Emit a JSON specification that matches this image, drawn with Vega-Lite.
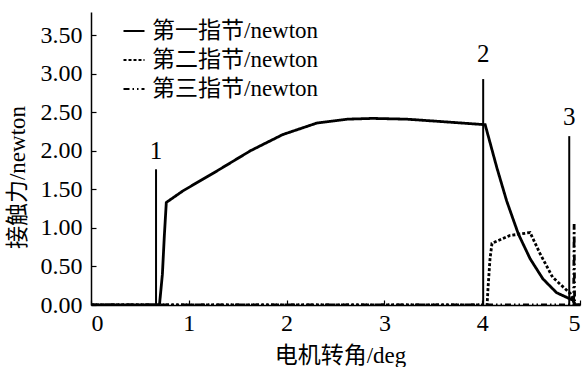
{
  "$schema": "https://vega.github.io/schema/vega-lite/v6.json",
  "width": 489,
  "height": 293,
  "autosize": {"type": "none"},
  "padding": {"left": 91, "top": 12, "right": 4, "bottom": 62},
  "background": "white",
  "config": {
    "view": {"stroke": null},
    "font": "Liberation Serif",
    "axis": {
      "domainColor": "black", "domainWidth": 1.5, "tickColor": "black", "tickWidth": 1.2,
      "labelFont": "Liberation Serif", "labelFontSize": 24, "labelColor": "black",
      "titleFont": "Liberation Serif, Noto Sans CJK SC", "titleFontSize": 23, "titleFontWeight": "normal", "titleColor": "black",
      "grid": false
    }
  },
  "datasets": {
    "curves": [
      {"s": "第一指节/newton", "x": 0, "y": 0},
      {"s": "第一指节/newton", "x": 0.70, "y": 0},
      {"s": "第一指节/newton", "x": 0.73, "y": 0.4},
      {"s": "第一指节/newton", "x": 0.75, "y": 0.9},
      {"s": "第一指节/newton", "x": 0.77, "y": 1.33},
      {"s": "第一指节/newton", "x": 0.94, "y": 1.48},
      {"s": "第一指节/newton", "x": 1.29, "y": 1.74},
      {"s": "第一指节/newton", "x": 1.63, "y": 2.0},
      {"s": "第一指节/newton", "x": 1.96, "y": 2.21},
      {"s": "第一指节/newton", "x": 2.31, "y": 2.36},
      {"s": "第一指节/newton", "x": 2.62, "y": 2.41},
      {"s": "第一指节/newton", "x": 2.88, "y": 2.42},
      {"s": "第一指节/newton", "x": 3.23, "y": 2.41},
      {"s": "第一指节/newton", "x": 3.57, "y": 2.38},
      {"s": "第一指节/newton", "x": 4.01, "y": 2.34},
      {"s": "第一指节/newton", "x": 4.03, "y": 2.34},
      {"s": "第一指节/newton", "x": 4.15, "y": 1.78},
      {"s": "第一指节/newton", "x": 4.25, "y": 1.35},
      {"s": "第一指节/newton", "x": 4.37, "y": 0.92},
      {"s": "第一指节/newton", "x": 4.49, "y": 0.60},
      {"s": "第一指节/newton", "x": 4.62, "y": 0.34},
      {"s": "第一指节/newton", "x": 4.76, "y": 0.16},
      {"s": "第一指节/newton", "x": 4.93, "y": 0.06},
      {"s": "第一指节/newton", "x": 4.95, "y": 0},
      {"s": "第一指节/newton", "x": 5, "y": 0},
      {"s": "第二指节/newton", "x": 0, "y": 0},
      {"s": "第二指节/newton", "x": 4.05, "y": 0},
      {"s": "第二指节/newton", "x": 4.06, "y": 0.23},
      {"s": "第二指节/newton", "x": 4.08, "y": 0.6},
      {"s": "第二指节/newton", "x": 4.10, "y": 0.80},
      {"s": "第二指节/newton", "x": 4.28, "y": 0.90},
      {"s": "第二指节/newton", "x": 4.49, "y": 0.94},
      {"s": "第二指节/newton", "x": 4.59, "y": 0.67},
      {"s": "第二指节/newton", "x": 4.72, "y": 0.36},
      {"s": "第二指节/newton", "x": 4.90, "y": 0.15},
      {"s": "第二指节/newton", "x": 4.95, "y": 0},
      {"s": "第二指节/newton", "x": 5, "y": 0},
      {"s": "第三指节/newton", "x": 0, "y": 0},
      {"s": "第三指节/newton", "x": 4.935, "y": 0},
      {"s": "第三指节/newton", "x": 4.94, "y": 1.05},
      {"s": "第三指节/newton", "x": 4.945, "y": 0},
      {"s": "第三指节/newton", "x": 5, "y": 0}
    ],
    "spikes": [
      {"x": 0.665, "top": 1.76, "base": 0, "label": "1", "ly": 1.89},
      {"x": 4.01, "top": 2.93, "base": 0, "label": "2", "ly": 3.15},
      {"x": 4.89, "top": 2.19, "base": 0, "label": "3", "ly": 2.34}
    ]
  },
  "layer": [
    {
      "data": {"name": "curves"},
      "mark": {"type": "line", "color": "black", "strokeWidth": 2.8, "clip": true},
      "encoding": {
        "x": {"field": "x", "type": "quantitative", "scale": {"domain": [0, 5], "nice": false}, "axis": {"values": [0,1,2,3,4,5], "format": "d", "tickSize": -5, "labelPadding": 11, "title": "电机转角/deg", "titleX": 249, "titleY": 57, "titleBaseline": "alphabetic"}},
        "y": {"field": "y", "type": "quantitative", "scale": {"domain": [0, 3.8], "nice": false}, "axis": {"values": [0,0.5,1,1.5,2,2.5,3,3.5], "format": ".2f", "tickSize": -5, "labelPadding": 14, "title": "接触力/newton", "titleX": -62, "titleY": 165}},
        "strokeDash": {"field": "s", "type": "nominal", "scale": {"domain": ["第一指节/newton", "第二指节/newton", "第三指节/newton"], "range": [[1, 0], [3, 2], [6, 3, 1.5, 3, 1.5, 3]]},
          "legend": {"title": null, "orient": "none", "legendX": 31, "legendY": 7, "symbolType": "stroke", "symbolSize": 441, "symbolStrokeWidth": 2.2, "symbolStrokeColor": "black", "labelFont": "Liberation Serif, Noto Sans CJK SC", "labelFontSize": 23, "labelLimit": 400, "labelColor": "black", "rowPadding": 5, "labelOffset": 6}},
        "order": {"field": "x", "type": "quantitative"}
      }
    },
    {
      "data": {"name": "spikes"},
      "mark": {"type": "rule", "color": "black", "strokeWidth": 2},
      "encoding": {
        "x": {"field": "x", "type": "quantitative"},
        "y": {"field": "top", "type": "quantitative"},
        "y2": {"field": "base"}
      }
    },
    {
      "data": {"name": "spikes"},
      "mark": {"type": "text", "color": "black", "fontSize": 25, "font": "Liberation Serif", "baseline": "alphabetic"},
      "encoding": {
        "x": {"field": "x", "type": "quantitative"},
        "y": {"field": "ly", "type": "quantitative"},
        "text": {"field": "label"}
      }
    }
  ]
}
